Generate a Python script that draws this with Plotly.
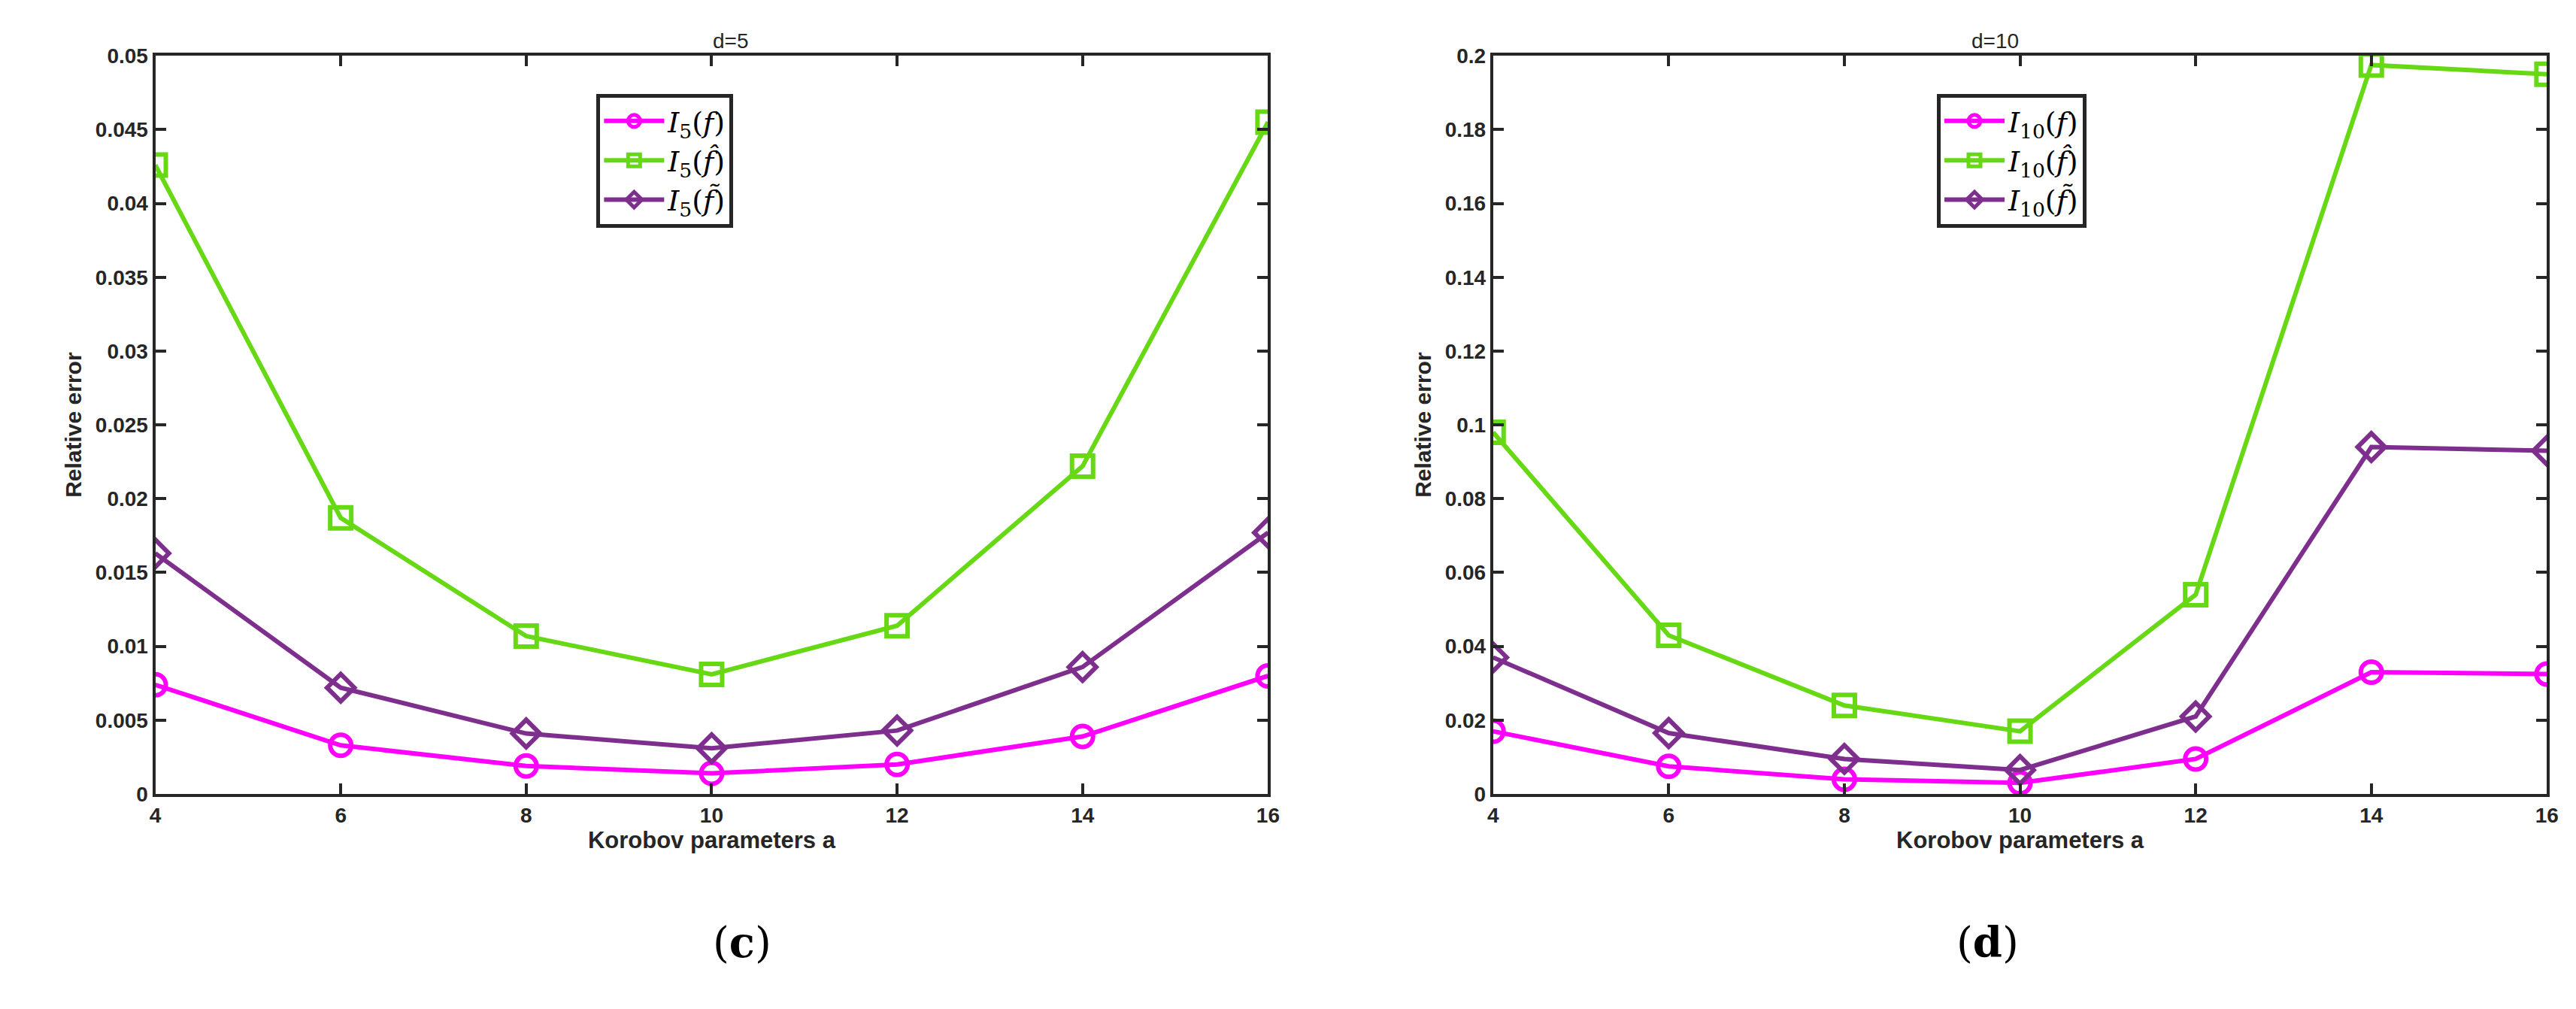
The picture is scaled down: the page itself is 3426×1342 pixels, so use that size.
import plotly.graph_objects as go

a_vals = [4, 6, 8, 10, 12, 14, 16]
d5_f = [0.0074, 0.0033, 0.0019, 0.0014, 0.0020, 0.0039, 0.0080]
d5_hat = [0.0426, 0.0187, 0.0107, 0.0081, 0.0114, 0.0222, 0.0455]
d5_tilde = [0.0163, 0.0072, 0.0041, 0.0031, 0.0043, 0.0086, 0.0177]
d10_f = [0.017, 0.0075, 0.004, 0.003, 0.0095, 0.033, 0.0325]
d10_hat = [0.098, 0.043, 0.024, 0.017, 0.054, 0.1975, 0.195]
d10_tilde = [0.037, 0.0165, 0.0095, 0.0065, 0.021, 0.094, 0.093]

cols = ["#ff00ff", "#66d814", "#7e2f8e"]
syms = ["circle-open", "square-open", "diamond-open"]

fig = go.Figure()
def add(ys, n, xa, ya, leg):
    names = [f"<i>I</i><sub>{n}</sub>(<i>f</i>)", f"<i>I</i><sub>{n}</sub>(<i>f̂</i>)", f"<i>I</i><sub>{n}</sub>(<i>f̃</i>)"]
    for y, c, s, nm in zip(ys, cols, syms, names):
        fig.add_trace(go.Scatter(x=a_vals, y=y, name=nm, mode="lines+markers", xaxis=xa, yaxis=ya, legend=leg,
                                 line=dict(color=c, width=6), marker=dict(symbol=s, size=28, color=c, line=dict(width=6, color=c))))
add([d5_f, d5_hat, d5_tilde], 5, "x", "y", "legend")
add([d10_f, d10_hat, d10_tilde], 10, "x2", "y2", "legend2")

ax = dict(showline=True, mirror="ticks", linecolor="#262626", linewidth=4, ticks="inside", ticklen=14, tickwidth=4,
          tickcolor="#262626", showgrid=False, zeroline=False,
          tickfont=dict(size=28, color="#262626", family="Liberation Sans", weight="bold"))
ydom = [0.212, 0.961]
xt = dict(text="<b>Korobov parameters a</b>", font=dict(size=31, color="#262626"), standoff=6)
yt = dict(text="<b>Relative error</b>", font=dict(size=30, color="#262626"), standoff=10)
leg = dict(bgcolor="white", bordercolor="#262626", borderwidth=5, font=dict(size=38, family="DejaVu Serif", color="black"),
           xanchor="left", yanchor="top", tracegroupgap=0, itemwidth=80)
fig.update_layout(
    width=3426, height=1342, paper_bgcolor="white", plot_bgcolor="white",
    margin=dict(l=0, r=0, t=0, b=0), font=dict(family="Liberation Sans"),
    xaxis=dict(ax, domain=[0.056, 0.491], range=[4, 16], tickvals=a_vals, anchor="y", title=xt, tickformat="d"),
    yaxis=dict(ax, domain=ydom, range=[0, 0.05], dtick=0.005, anchor="x", title=yt, tickformat="~g"),
    xaxis2=dict(ax, domain=[0.579, 0.991], range=[4, 16], tickvals=a_vals, anchor="y2", title=xt),
    yaxis2=dict(ax, domain=ydom, range=[0, 0.2], dtick=0.02, anchor="x2", title=yt, tickformat="~g"),
    legend=dict(leg, x=0.2285, y=0.9225),
    legend2=dict(leg, x=0.7525, y=0.9225),
    annotations=[
        dict(text="d=5", x=0.2735, y=0.963, xref="paper", yref="paper", showarrow=False, yanchor="bottom", font=dict(size=28, color="#262626")),
        dict(text="d=10", x=0.785, y=0.963, xref="paper", yref="paper", showarrow=False, yanchor="bottom", font=dict(size=28, color="#262626")),
        dict(text="(<b>c</b>)", x=0.2735, y=0.035, xref="paper", yref="paper", showarrow=False, font=dict(size=56, color="black", family="DejaVu Serif")),
        dict(text="(<b>d</b>)", x=0.785, y=0.035, xref="paper", yref="paper", showarrow=False, font=dict(size=56, color="black", family="DejaVu Serif")),
    ],
)
fig.write_html("out.html")
